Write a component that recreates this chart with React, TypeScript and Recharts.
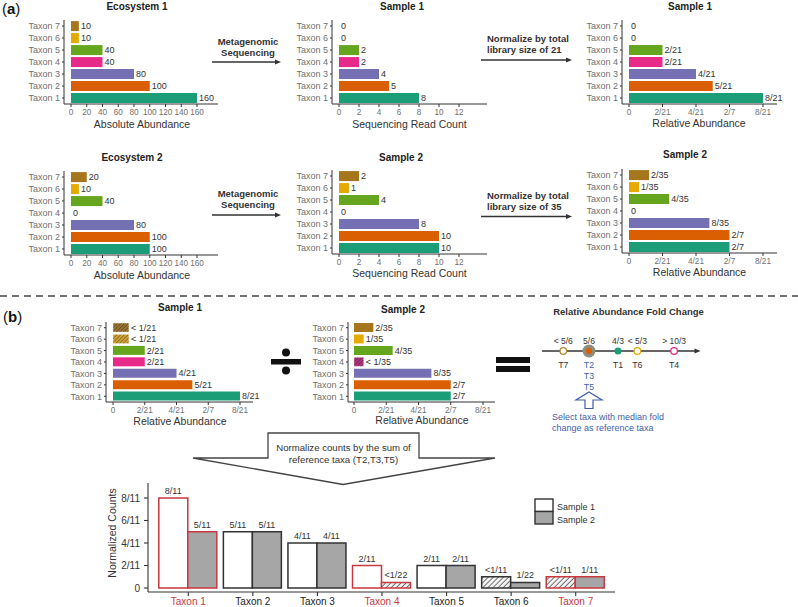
import React from 'react';
import { BarChart, Bar, XAxis, YAxis, Cell, LabelList, ScatterChart, Scatter } from 'recharts';

const FONT = '"Liberation Sans", Arial, Helvetica, sans-serif';

// ---------- data ----------
const taxa = ['Taxon 1', 'Taxon 2', 'Taxon 3', 'Taxon 4', 'Taxon 5', 'Taxon 6', 'Taxon 7'];
const taxonColors = ['#1b9e77', '#d95f02', '#7570b3', '#e7298a', '#66a61e', '#e6ab02', '#a6761d'];
const taxonHatch = ['#1b9e77', '#d95f02', '#7570b3', 'url(#hatchPink)', '#66a61e', 'url(#hatchYellow)', 'url(#hatchBrown)'];

const eco1 = [160, 100, 80, 40, 40, 10, 10];
const eco2 = [100, 100, 80, 0, 40, 10, 20];
const reads1 = [8, 5, 4, 2, 2, 0, 0];
const reads2 = [10, 10, 8, 0, 4, 1, 2];
const rel1 = [8 / 21, 5 / 21, 4 / 21, 2 / 21, 2 / 21, 0, 0];
const rel1Labels = ['8/21', '5/21', '4/21', '2/21', '2/21', '0', '0'];
const rel2 = [10 / 35, 10 / 35, 8 / 35, 0, 4 / 35, 1 / 35, 2 / 35];
const rel2Labels = ['2/7', '2/7', '8/35', '0', '4/35', '1/35', '2/35'];
const rel1b = [8 / 21, 5 / 21, 4 / 21, 2 / 21, 2 / 21, 1 / 21, 1 / 21];
const rel1bLabels = ['8/21', '5/21', '4/21', '2/21', '2/21', '< 1/21', '< 1/21'];
const rel2b = [10 / 35, 10 / 35, 8 / 35, 1 / 35, 4 / 35, 1 / 35, 2 / 35];
const rel2bLabels = ['2/7', '2/7', '8/35', '< 1/35', '4/35', '1/35', '2/35'];

const absTicks = [0, 20, 40, 60, 80, 100, 120, 140, 160];
const readTicks = [0, 2, 4, 6, 8, 10, 12];
const relTicks = [0, 2 / 21, 4 / 21, 6 / 21, 8 / 21];
const relTickLabels = ['0', '2/21', '4/21', '2/7', '8/21'];

const foldTaxa = ['T7', 'T2', 'T1', 'T6', 'T4'];
const foldLabels = ['< 5/6', '5/6', '4/3', '< 5/3', '> 10/3'];
const foldPos = [0.39, 5 / 6, 4 / 3, 5 / 3, 2.3];
const foldBelow = [['T7'], ['T2', 'T3', 'T5'], ['T1'], ['T6'], ['T4']];

const normS1 = [8 / 11, 5 / 11, 4 / 11, 2 / 11, 2 / 11, 1 / 11, 1 / 11];
const normS1Labels = ['8/11', '5/11', '4/11', '2/11', '2/11', '<1/11', '<1/11'];
const normS2 = [5 / 11, 5 / 11, 4 / 11, 1 / 22, 2 / 11, 1 / 22, 1 / 11];
const normS2Labels = ['5/11', '5/11', '4/11', '<1/22', '2/11', '1/22', '1/11'];
const normTicks = [0, 2 / 11, 4 / 11, 6 / 11, 8 / 11];
const normTickLabels = ['0', '2/11', '4/11', '6/11', '8/11'];
const highlighted = [true, false, false, true, false, false, true];

const RED = '#c7383f';
const BLUE = '#3f5fa8';

// ---------- horizontal bar panel ----------
type PanelProps = {
  x0: number; x1: number; y0: number; y1: number;
  zero: number; pxPerUnit: number;
  ticks: number[]; tickLabels?: string[];
  values: number[]; labels: string[]; hatch?: boolean;
};

function CatTick(props: any) {
  const { x, y, payload } = props;
  return (
    <text x={x} y={y} dy="0.36em" textAnchor="end" fontSize={9} fill="#707070" fontFamily={FONT}>
      {payload.value}
    </text>
  );
}

function HPanel(p: PanelProps) {
  const YW = 50, MT = 4, MR = 40, XH = 24;
  const domain: [number, number] = [(p.x0 - p.zero) / p.pxPerUnit, (p.x1 - p.zero) / p.pxPerUnit];
  const data = taxa
    .map((name, i) => ({
      name,
      v: p.values[i],
      label: p.labels[i],
      bound: p.labels[i].startsWith('<'),
      i,
    }))
    .reverse();
  const w = p.x1 - p.x0 + YW + MR;
  const h = p.y1 - p.y0 + MT + XH;
  const fmt = (v: number) => {
    const k = p.ticks.findIndex((t) => Math.abs(t - v) < 1e-9);
    if (p.tickLabels) return k >= 0 ? p.tickLabels[k] : '';
    return String(v);
  };
  return (
    <div style={{ position: 'absolute', left: p.x0 - YW, top: p.y0 - MT }}>
      <BarChart
        width={w}
        height={h}
        data={data}
        layout="vertical"
        margin={{ top: MT, right: MR, left: 0, bottom: 0 }}
        barCategoryGap="9%"
      >
        <XAxis
          type="number"
          domain={domain}
          allowDataOverflow
          ticks={p.ticks}
          interval={0}
          tickFormatter={fmt}
          height={XH}
          tick={{ fontSize: 8.2, fill: '#707070', fontFamily: FONT }}
          tickSize={3}
          tickMargin={2}
          stroke="#333"
        />
        <YAxis
          type="category"
          dataKey="name"
          width={YW}
          interval={0}
          tick={(tp: any) => <CatTick {...tp} />}
          tickSize={2}
          tickMargin={2}
          stroke="#333"
        />
        <Bar dataKey="v" isAnimationActive={false} minPointSize={0.01}>
          {data.map((d, k) => (
            <Cell
              key={k}
              fill={p.hatch && d.bound ? taxonHatch[d.i] : taxonColors[d.i]}
              stroke={p.hatch && d.bound ? '#e9e2d2' : 'none'}
              strokeWidth={0.8}
              strokeDasharray={p.hatch && d.bound ? '1.2 1' : undefined}
            />
          ))}
          <LabelList dataKey="label" position="right" offset={2} fontSize={9} fill="#333" fontFamily={FONT} />
        </Bar>
      </BarChart>
    </div>
  );
}

// ---------- fold change scatter ----------
function FoldPoint(props: any) {
  const { cx, cy } = props;
  const d = props.payload || props;
  const i = d.i;
  let marks: React.ReactNode;
  if (i === 0) marks = <circle cx={cx} cy={cy} r={3.3} fill="#fff" stroke="#b8862b" strokeWidth={1.3} />;
  else if (i === 1)
    marks = (
      <g>
        <circle cx={cx} cy={cy} r={6.5} fill="#8d8d7e" />
        <circle cx={cx} cy={cy} r={3} fill="#d95f02" />
      </g>
    );
  else if (i === 2) marks = <circle cx={cx} cy={cy} r={3.5} fill="#1b9e77" />;
  else if (i === 3) marks = <circle cx={cx} cy={cy} r={3.3} fill="#fff" stroke="#e6ab02" strokeWidth={1.3} />;
  else marks = <circle cx={cx} cy={cy} r={3.3} fill="#fff" stroke="#e7298a" strokeWidth={1.3} />;
  return (
    <g>
      {marks}
      <text x={cx} y={cy - 7.5} textAnchor="middle" fontSize={8.5} fill="#333" fontFamily={FONT}>
        {d.label}
      </text>
      {d.below.map((t: string, k: number) => (
        <text
          key={k}
          x={cx}
          y={cy + 16.5 + k * 11}
          textAnchor="middle"
          fontSize={8.8}
          fill={i === 1 ? BLUE : '#333'}
          fontFamily={FONT}
        >
          {t}
        </text>
      ))}
    </g>
  );
}

function FoldChart() {
  const data = foldTaxa.map((t, i) => ({ x: foldPos[i], y: 0, label: foldLabels[i], below: foldBelow[i], i, t }));
  return (
    <div style={{ position: 'absolute', left: 542, top: 301 }}>
      <ScatterChart width={158} height={100} margin={{ top: 0, right: 0, bottom: 0, left: 0 }}>
        <XAxis type="number" dataKey="x" domain={[0.023, 2.747]} allowDataOverflow hide />
        <YAxis type="number" dataKey="y" domain={[-1, 1]} allowDataOverflow hide />
        <Scatter data={data} isAnimationActive={false} shape={(pp: any) => <FoldPoint {...pp} />} />
      </ScatterChart>
    </div>
  );
}

// ---------- normalized counts chart ----------
function TaxTick(props: any) {
  const { x, y, payload, index } = props;
  const idx = typeof index === 'number' ? index : taxa.indexOf(payload.value);
  return (
    <text x={x} y={y} dy="0.71em" textAnchor="middle" fontSize={10} fontFamily={FONT} fill={highlighted[idx] ? RED : '#222'}>
      {payload.value}
    </text>
  );
}

function NormChart() {
  const YW = 45, MT = 10, MR = 10, XH = 16;
  const x0 = 148, x1 = 615, y0 = 483, y1 = 592;
  const zero = 588, px = 123.75;
  const domain: [number, number] = [(zero - y1) / px, (zero - y0) / px];
  const data = taxa.map((name, i) => ({ name, s1: normS1[i], s2: normS2[i], l1: normS1Labels[i], l2: normS2Labels[i] }));
  const w = x1 - x0 + YW + MR;
  const h = y1 - y0 + MT + XH;
  const fmt = (v: number) => {
    const k = normTicks.findIndex((t) => Math.abs(t - v) < 1e-9);
    return k >= 0 ? normTickLabels[k] : '';
  };
  return (
    <div style={{ position: 'absolute', left: x0 - YW, top: y0 - MT }}>
      <BarChart
        width={w}
        height={h}
        data={data}
        margin={{ top: MT, right: MR, left: 0, bottom: 0 }}
        barCategoryGap={2.8}
        barGap={0}
      >
        <XAxis
          dataKey="name"
          padding={{ left: 8, right: 7 }}
          interval={0}
          height={XH}
          tickSize={4}
          tickMargin={2.3}
          stroke="#333"
          strokeWidth={1.1}
          tick={(tp: any) => <TaxTick {...tp} />}
        />
        <YAxis
          type="number"
          domain={domain}
          allowDataOverflow
          ticks={normTicks}
          interval={0}
          tickFormatter={fmt}
          width={YW}
          tick={{ fontSize: 10, fill: '#333', fontFamily: FONT }}
          tickSize={4}
          tickMargin={4}
          stroke="#333"
          strokeWidth={1.1}
        />
        <Bar dataKey="s1" isAnimationActive={false}>
          {data.map((d, k) => (
            <Cell
              key={k}
              fill={d.l1.startsWith('<') ? 'url(#hatchGrey)' : '#ffffff'}
              stroke={highlighted[k] ? RED : '#333'}
              strokeWidth={1.5}
            />
          ))}
          <LabelList dataKey="l1" position="top" offset={4} fontSize={9} fill="#333" fontFamily={FONT} />
        </Bar>
        <Bar dataKey="s2" isAnimationActive={false}>
          {data.map((d, k) => (
            <Cell
              key={k}
              fill={d.l2.startsWith('<') ? 'url(#hatchGrey)' : '#a6a6a6'}
              stroke={highlighted[k] ? RED : '#333'}
              strokeWidth={1.5}
            />
          ))}
          <LabelList dataKey="l2" position="top" offset={4} fontSize={9} fill="#333" fontFamily={FONT} />
        </Bar>
      </BarChart>
    </div>
  );
}

// ---------- overlay ----------
function Arrow({ x1, x2, y }: { x1: number; x2: number; y: number }) {
  return (
    <g>
      <line x1={x1} y1={y} x2={x2 - 5} y2={y} stroke="#333" strokeWidth={1.3} />
      <polygon points={`${x2},${y} ${x2 - 6},${y - 2.6} ${x2 - 6},${y + 2.6}`} fill="#333" />
    </g>
  );
}

function T(props: any) {
  const { x, y, children, size = 9, bold, anchor = 'middle', fill = '#222' } = props;
  return (
    <text x={x} y={y} fontSize={size} fontWeight={bold ? 'bold' : 'normal'} textAnchor={anchor} fill={fill} fontFamily={FONT}>
      {children}
    </text>
  );
}

function Overlay() {
  return (
    <svg width={798} height={607} style={{ position: 'absolute', left: 0, top: 0 }}>
      <defs>
        <pattern id="hatchBrown" patternUnits="userSpaceOnUse" width={2.6} height={2.6} patternTransform="rotate(45)">
          <rect width={2.6} height={2.6} fill="#9c7630" />
          <line x1={0} y1={0} x2={0} y2={2.6} stroke="#4b3a1e" strokeWidth={1.1} />
        </pattern>
        <pattern id="hatchYellow" patternUnits="userSpaceOnUse" width={2.6} height={2.6} patternTransform="rotate(45)">
          <rect width={2.6} height={2.6} fill="#d3a232" />
          <line x1={0} y1={0} x2={0} y2={2.6} stroke="#5b4a25" strokeWidth={1.1} />
        </pattern>
        <pattern id="hatchPink" patternUnits="userSpaceOnUse" width={2.6} height={2.6} patternTransform="rotate(45)">
          <rect width={2.6} height={2.6} fill="#b5307d" />
          <line x1={0} y1={0} x2={0} y2={2.6} stroke="#4a2038" strokeWidth={1.1} />
        </pattern>
        <pattern id="hatchGrey" patternUnits="userSpaceOnUse" width={3.6} height={3.6} patternTransform="rotate(45)">
          <rect width={3.6} height={3.6} fill="#f2f2f2" />
          <line x1={0} y1={0} x2={0} y2={3.6} stroke="#333" strokeWidth={1.3} />
        </pattern>
      </defs>

      {/* panel (a) */}
      <text x={2} y={14} fontSize={15} fill="#111" fontFamily={FONT}>
        (<tspan fontWeight="bold">a</tspan>)
      </text>
      <T x={137} y={9.6} size={10} bold>Ecosystem 1</T>
      <T x={402} y={9.6} size={10} bold>Sample 1</T>
      <T x={690} y={9.6} size={10} bold>Sample 1</T>
      <T x={142} y={127.8} size={10.5} fill="#333">Absolute Abundance</T>
      <T x={409.5} y={127.8} size={10.5} fill="#333">Sequencing Read Count</T>
      <T x={699} y={127} size={10.5} fill="#333">Relative Abundance</T>

      <T x={248} y={44.5} size={9.5} bold fill="#333">Metagenomic</T>
      <T x={248} y={55.5} size={9.5} bold fill="#333">Sequencing</T>
      <Arrow x1={212} x2={281} y={62} />
      <T x={487} y={41.5} size={9.5} bold anchor="start" fill="#333">Normalize by total</T>
      <T x={487} y={52.5} size={9.5} bold anchor="start" fill="#333">library size of 21</T>
      <Arrow x1={481} x2={572} y={60} />

      <T x={132} y={160.5} size={10} bold>Ecosystem 2</T>
      <T x={401} y={160.5} size={10} bold>Sample 2</T>
      <T x={685} y={157.5} size={10} bold>Sample 2</T>
      <T x={142} y={279} size={10.5} fill="#333">Absolute Abundance</T>
      <T x={409.5} y={276.5} size={10.5} fill="#333">Sequencing Read Count</T>
      <T x={699.5} y={276} size={10.5} fill="#333">Relative Abundance</T>

      <T x={248} y={196.5} size={9.5} bold fill="#333">Metagenomic</T>
      <T x={248} y={207.5} size={9.5} bold fill="#333">Sequencing</T>
      <Arrow x1={212} x2={281} y={215} />
      <T x={487} y={198.5} size={9.5} bold anchor="start" fill="#333">Normalize by total</T>
      <T x={487} y={210} size={9.5} bold anchor="start" fill="#333">library size of 35</T>
      <Arrow x1={481} x2={572} y={216.5} />

      {/* separator */}
      <line x1={0} y1={296} x2={798} y2={296} stroke="#444" strokeWidth={1.4} strokeDasharray="7 5" />

      {/* panel (b) */}
      <text x={3} y={322} fontSize={15} fill="#111" fontFamily={FONT}>
        (<tspan fontWeight="bold">b</tspan>)
      </text>
      <T x={180} y={311} size={10} bold>Sample 1</T>
      <T x={403} y={313} size={10} bold>Sample 2</T>
      <T x={180} y={424.5} size={10.5} fill="#333">Relative Abundance</T>
      <T x={422} y={423.5} size={10.5} fill="#333">Relative Abundance</T>

      {/* division sign */}
      <rect x={271} y={359} width={30} height={5.5} fill="#111" />
      <circle cx={286} cy={352.5} r={4} fill="#111" />
      <circle cx={286} cy={370.5} r={4} fill="#111" />
      {/* equals sign */}
      <rect x={496} y={357} width={34} height={6} fill="#111" />
      <rect x={496} y={366} width={34} height={6} fill="#111" />

      <T x={628.5} y={314.5} size={9.5} bold fill="#333">Relative Abundance Fold Change</T>
      <line x1={542} y1={351} x2={696} y2={351} stroke="#333" strokeWidth={1.3} />
      <polygon points="700.5,351 694.5,348.4 694.5,353.6" fill="#333" />

      <polygon
        points="589,392 602,400 593,400 593,408.5 585,408.5 585,400 576,400"
        fill="#fff"
        stroke={BLUE}
        strokeWidth={1.2}
        strokeLinejoin="miter"
      />
      <T x={552} y={420} size={9} anchor="start" fill={BLUE}>Select taxa with median fold</T>
      <T x={552} y={430.5} size={9} anchor="start" fill={BLUE}>change as reference taxa</T>

      {/* callout */}
      <polygon
        points="193,458 268,458 268,433 419,433 419,458 495,458 343,484.5"
        fill="#fff"
        stroke="#444"
        strokeWidth={1.3}
        strokeLinejoin="miter"
      />
      <T x={343.5} y={450.5} size={9.6} fill="#333">Normalize counts by the sum of</T>
      <T x={343.5} y={462.5} size={9.6} fill="#333">reference taxa (T2,T3,T5)</T>

      {/* normalized counts y title */}
      <text
        x={115.7}
        y={533}
        transform="rotate(-90 115.7 533)"
        textAnchor="middle"
        fontSize={10.5}
        fill="#333"
        fontFamily={FONT}
      >
        Normalized Counts
      </text>

      {/* legend */}
      <rect x={535} y={499} width={18} height={12.5} fill="#fff" stroke="#333" strokeWidth={1.4} />
      <rect x={535} y={511.5} width={18} height={12.5} fill="#a6a6a6" stroke="#333" strokeWidth={1.4} />
      <T x={557} y={510.2} size={9} anchor="start" fill="#333">Sample 1</T>
      <T x={557} y={522.7} size={9} anchor="start" fill="#333">Sample 2</T>
    </svg>
  );
}

export default function App() {
  return (
    <div
      style={{
        position: 'absolute',
        left: 0,
        top: 0,
        width: 798,
        height: 607,
        overflow: 'hidden',
        background: '#fff',
        fontFamily: FONT,
      }}
    >
      <Overlay />
      {/* row 1 */}
      <HPanel x0={64} x1={218} y0={20} y1={104} zero={71} pxPerUnit={0.7875} ticks={absTicks} values={eco1} labels={eco1.map(String)} />
      <HPanel x0={332} x1={487} y0={20} y1={104} zero={339} pxPerUnit={10} ticks={readTicks} values={reads1} labels={reads1.map(String)} />
      <HPanel x0={622} x1={777} y0={19.5} y1={103.5} zero={629} pxPerUnit={351.75} ticks={relTicks} tickLabels={relTickLabels} values={rel1} labels={rel1Labels} />
      {/* row 2 */}
      <HPanel x0={64} x1={218} y0={171} y1={255} zero={71} pxPerUnit={0.7875} ticks={absTicks} values={eco2} labels={eco2.map(String)} />
      <HPanel x0={332} x1={487} y0={170} y1={254} zero={339} pxPerUnit={10} ticks={readTicks} values={reads2} labels={reads2.map(String)} />
      <HPanel x0={622} x1={777} y0={169} y1={253} zero={629} pxPerUnit={351.75} ticks={relTicks} tickLabels={relTickLabels} values={rel2} labels={rel2Labels} />
      {/* panel b */}
      <HPanel x0={106} x1={253} y0={322} y1={402} zero={113} pxPerUnit={333.4} ticks={relTicks} tickLabels={relTickLabels} values={rel1b} labels={rel1bLabels} hatch />
      <HPanel x0={348} x1={495} y0={322} y1={402} zero={354} pxPerUnit={338.6} ticks={relTicks} tickLabels={relTickLabels} values={rel2b} labels={rel2bLabels} hatch />
      <FoldChart />
      <NormChart />
    </div>
  );
}
